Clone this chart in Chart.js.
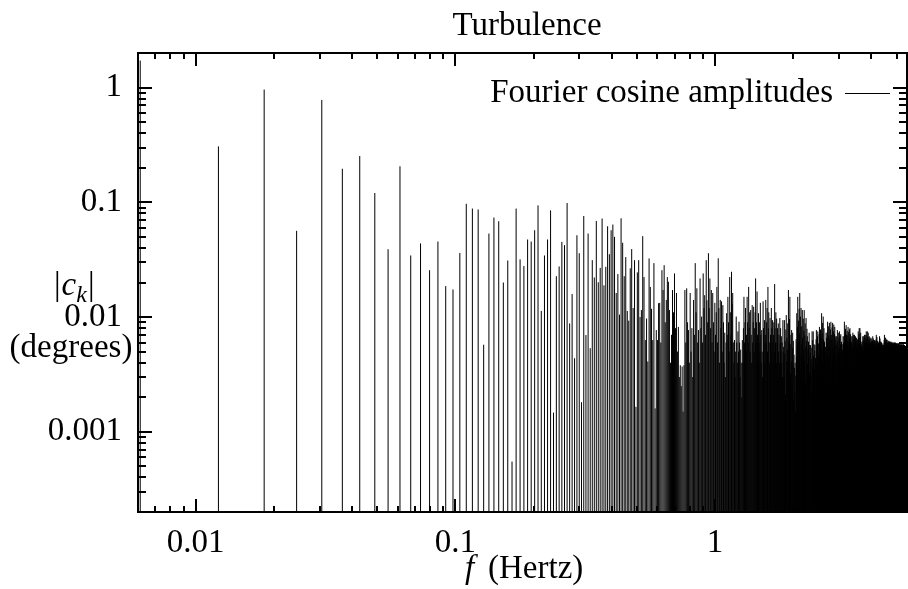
<!DOCTYPE html>
<html>
<head>
<meta charset="utf-8">
<title>Turbulence</title>
<script src="https://cdn.jsdelivr.net/npm/chart.js@4.4.1/dist/chart.umd.min.js"></script>
<style>
  html, body { margin: 0; padding: 0; background: #fff; overflow: hidden; }
  #wrap { width: 908px; height: 589px; }
  canvas { display: block; }
</style>
</head>
<body>
<div id="wrap"><canvas id="chart" width="908" height="589" style="width:908px;height:589px"></canvas></div>
<script>
// ---- data: Fourier cosine amplitudes |c_k| (degrees), bin k = 1..895 ----
const DF = 0.00612;          // frequency step (Hertz)
const X_MIN = 0.006, X_MAX = 5.48;
const Y_MIN = 0.0002, Y_MAX = 2;

const X_TICKS = [0.01, 0.1, 1];
const X_TICK_LABELS = ["0.01", "0.1", "1"];
const Y_TICKS = [0.001, 0.01, 0.1, 1];
const Y_TICK_LABELS = ["0.001", "0.01", "0.1", "1"];

// k = 1..41
const ampLow = [
  1.72, 0.307, 0.96, 0.0564, 0.78, 0.196, 0.253, 0.1205, 0.039, 0.206,
  0.0344, 0.0438, 0.0256, 0.0455, 0.0186, 0.0174, 0.0362, 0.097, 0.0882, 0.0865,
  0.00574, 0.0534, 0.0736, 0.0684, 0.020, 0.0311, 0.00055, 0.0882, 0.0318, 0.0278,
  0.0474, 0.0455, 0.0571, 0.094, 0.0113, 0.0344, 0.0474, 0.085, 0.00147, 0.0227,
  0.0276
];
// k = 42..99
const ampMid = [
  0.0452, 0.0423, 0.0986, 0.0088, 0.0159, 0.00437, 0.0516, 0.036, 0.00181,
  0.076, 0.00697, 0.0534, 0.00535, 0.0313, 0.0221, 0.0688, 0.0201, 0.0268, 0.0722,
  0.0189, 0.0274, 0.0618, 0.0353, 0.0571, 0.064, 0.05, 0.0162, 0.0237, 0.0105,
  0.0726, 0.0444, 0.0227, 0.0333, 0.0113, 0.0093, 0.0266, 0.0391, 0.012, 0.0313,
  0.00165, 0.0245, 0.0313, 0.010, 0.0115, 0.0507, 0.0223, 0.0063, 0.0097, 0.0041,
  0.0324, 0.0183, 0.0118, 0.0063, 0.0295, 0.0016, 0.0077, 0.0063, 0.0132
];
// k = 100..299
const ampHigh1 = [
  0.0133, 0.006, 0.0256, 0.0172, 0.0283, 0.009, 0.0141, 0.0223, 0.0203, 0.0115,
  0.004, 0.007, 0.0172, 0.011, 0.024, 0.008, 0.0162, 0.005, 0.0082, 0.003,
  0.0038, 0.0025, 0.0037, 0.0015, 0.0038, 0.0172, 0.006, 0.0178, 0.009, 0.0077,
  0.004, 0.0162, 0.005, 0.008, 0.003, 0.0141, 0.007, 0.0295, 0.011, 0.0178,
  0.006, 0.0077, 0.004, 0.0217, 0.008, 0.0101, 0.006, 0.024, 0.012, 0.0155,
  0.007, 0.0313, 0.014, 0.009, 0.036, 0.012, 0.0217, 0.008, 0.0172, 0.006,
  0.0162, 0.009, 0.005, 0.0133, 0.007, 0.011, 0.0183, 0.006, 0.0325, 0.012,
  0.004, 0.0141, 0.008, 0.0137, 0.005, 0.0127, 0.009, 0.004, 0.0073, 0.003,
  0.006, 0.0108, 0.007, 0.015, 0.009, 0.005, 0.0223, 0.011, 0.007, 0.0248,
  0.013, 0.0162, 0.006, 0.004, 0.0063, 0.003, 0.005, 0.0101, 0.006, 0.004,
  0.0075, 0.005, 0.0091, 0.006, 0.003, 0.0052, 0.004, 0.002, 0.0063, 0.004,
  0.008, 0.015, 0.006, 0.009, 0.012, 0.005, 0.007, 0.015, 0.009, 0.006,
  0.0183, 0.008, 0.011, 0.005, 0.0115, 0.007, 0.004, 0.0127, 0.006, 0.009,
  0.0123, 0.005, 0.008, 0.011, 0.0217, 0.006, 0.009, 0.0167, 0.007, 0.004,
  0.0108, 0.006, 0.009, 0.005, 0.0133, 0.007, 0.004, 0.0077, 0.005, 0.003,
  0.0137, 0.008, 0.006, 0.0094, 0.004, 0.007, 0.0141, 0.006, 0.009, 0.012,
  0.005, 0.0183, 0.008, 0.011, 0.006, 0.004, 0.0098, 0.007, 0.005, 0.012,
  0.008, 0.006, 0.0094, 0.004, 0.007, 0.009, 0.005, 0.0194, 0.008, 0.006,
  0.011, 0.004, 0.0097, 0.006, 0.008, 0.003, 0.0088, 0.005, 0.007, 0.004,
  0.0098, 0.006, 0.008, 0.005, 0.0068, 0.004, 0.006, 0.003, 0.0094, 0.005
];
// k = 300..599
const ampHigh2 = [
  0.0055, 0.0030, 0.0094, 0.0048, 0.0062, 0.0021, 0.0078, 0.0104, 0.0041, 0.0066,
  0.0052, 0.0088, 0.0035, 0.0172, 0.0061, 0.0044, 0.0096, 0.0150, 0.0058, 0.0032,
  0.0070, 0.0041, 0.0077, 0.0025, 0.0054, 0.0073, 0.0038, 0.0062, 0.0019, 0.0047,
  0.0036, 0.0022, 0.0040, 0.0015, 0.0031, 0.0064, 0.0045, 0.0108, 0.0057, 0.0082,
  0.0150, 0.0061, 0.0093, 0.0040, 0.0118, 0.0072, 0.0162, 0.0048, 0.0101, 0.0035,
  0.0120, 0.0058, 0.0083, 0.0030, 0.0115, 0.0066, 0.0044, 0.0097, 0.0052, 0.0076,
  0.0115, 0.0041, 0.0069, 0.0088, 0.0027, 0.0055, 0.0098, 0.0062, 0.0036, 0.0079,
  0.0068, 0.0039, 0.0052, 0.0024, 0.0061, 0.0045, 0.0073, 0.0033, 0.0057, 0.0018,
  0.0049, 0.0057, 0.0031, 0.0043, 0.0022, 0.0054, 0.0075, 0.0038, 0.0063, 0.0029,
  0.0075, 0.0046, 0.0027, 0.0058, 0.0035, 0.0051, 0.0057, 0.0019, 0.0044, 0.0032,
  0.0064, 0.0077, 0.0040, 0.0055, 0.0026, 0.0068, 0.0075, 0.0048, 0.0033, 0.0059,
  0.0045, 0.0071, 0.0082, 0.0036, 0.0060, 0.0024, 0.0078, 0.0050, 0.0066, 0.0039,
  0.0108, 0.0053, 0.0072, 0.0041, 0.0089, 0.0030, 0.0101, 0.0064, 0.0047, 0.0080,
  0.0058, 0.0061, 0.0034, 0.0049, 0.0022, 0.0055, 0.0042, 0.0073, 0.0031, 0.0066,
  0.0051, 0.0073, 0.0038, 0.0091, 0.0060, 0.0044, 0.0083, 0.0027, 0.0069, 0.0056,
  0.0089, 0.0047, 0.0065, 0.0035, 0.0078, 0.0052, 0.0091, 0.0040, 0.0070, 0.0029,
  0.0063, 0.0081, 0.0042, 0.0089, 0.0054, 0.0033, 0.0075, 0.0048, 0.0086, 0.0058,
  0.0039, 0.0071, 0.0082, 0.0050, 0.0064, 0.0027, 0.0068, 0.0045, 0.0057, 0.0036,
  0.0068, 0.0041, 0.0059, 0.0077, 0.0033, 0.0062, 0.0049, 0.0073, 0.0038, 0.0054,
  0.0066, 0.0044, 0.0075, 0.0052, 0.0030, 0.0069, 0.0058, 0.0037, 0.0071, 0.0047,
  0.0056, 0.0061, 0.0035, 0.0049, 0.0058, 0.0028, 0.0052, 0.0044, 0.0068, 0.0039,
  0.0060, 0.0046, 0.0068, 0.0053, 0.0091, 0.0037, 0.0072, 0.0057, 0.0043, 0.0079,
  0.0064, 0.0050, 0.0085, 0.0041, 0.0070, 0.0058, 0.0033, 0.0076, 0.0062, 0.0047,
  0.0069, 0.0082, 0.0052, 0.0038, 0.0074, 0.0060, 0.0045, 0.0078, 0.0055, 0.0066,
  0.0080, 0.0048, 0.0063, 0.0071, 0.0036, 0.0057, 0.0068, 0.0044, 0.0061, 0.0052,
  0.0059, 0.0068, 0.0042, 0.0055, 0.0073, 0.0048, 0.0064, 0.0037, 0.0070, 0.0053,
  0.0061, 0.0045, 0.0070, 0.0056, 0.0039, 0.0066, 0.0051, 0.0068, 0.0043, 0.0058,
  0.0063, 0.0049, 0.0066, 0.0054, 0.0035, 0.0060, 0.0046, 0.0064, 0.0052, 0.0041,
  0.0057, 0.0075, 0.0048, 0.0066, 0.0053, 0.0071, 0.0080, 0.0044, 0.0062, 0.0055,
  0.0080, 0.0059, 0.0067, 0.0042, 0.0073, 0.0050, 0.0061, 0.0038, 0.0056, 0.0047
];
// k = 600..895
const ampHigh3 = [
  0.0058, 0.0044, 0.0061, 0.0052, 0.0039, 0.0068, 0.0055, 0.0047, 0.0063, 0.0050,
  0.0068, 0.0053, 0.0045, 0.0062, 0.0070, 0.0049, 0.0057, 0.0041, 0.0066, 0.0054,
  0.0060, 0.0070, 0.0046, 0.0058, 0.0075, 0.0051, 0.0064, 0.0043, 0.0069, 0.0056,
  0.0075, 0.0059, 0.0048, 0.0067, 0.0054, 0.0073, 0.0061, 0.0045, 0.0057, 0.0065,
  0.0052, 0.0068, 0.0058, 0.0046, 0.0063, 0.0055, 0.0066, 0.0049, 0.0060, 0.0043,
  0.0057, 0.0066, 0.0050, 0.0061, 0.0044, 0.0064, 0.0053, 0.0058, 0.0047, 0.0062,
  0.0055, 0.0068, 0.0060, 0.0048, 0.0065, 0.0052, 0.0058, 0.0063, 0.0045, 0.0057,
  0.0061, 0.0050, 0.0063, 0.0054, 0.0046, 0.0059, 0.0062, 0.0049, 0.0056, 0.0052,
  0.0058, 0.0064, 0.0070, 0.0051, 0.0060, 0.0055, 0.0067, 0.0048, 0.0062, 0.0057,
  0.0053, 0.0061, 0.0049, 0.0058, 0.0055, 0.0060, 0.0046, 0.0057, 0.0052, 0.0059,
  0.0062, 0.0054, 0.0068, 0.0050, 0.0059, 0.0065, 0.0047, 0.0061, 0.0056, 0.0052,
  0.0057, 0.0061, 0.0049, 0.0055, 0.0060, 0.0045, 0.0058, 0.0053, 0.0059, 0.0050,
  0.0054, 0.0057, 0.0048, 0.0053, 0.0056, 0.0044, 0.0055, 0.0051, 0.0057, 0.0049,
  0.0059, 0.0063, 0.0052, 0.0070, 0.0055, 0.0061, 0.0048, 0.0066, 0.0057, 0.0053,
  0.0060, 0.0066, 0.0051, 0.0058, 0.0063, 0.0047, 0.0061, 0.0055, 0.0064, 0.0052,
  0.0058, 0.0063, 0.0050, 0.0056, 0.0060, 0.0046, 0.0059, 0.0054, 0.0062, 0.0051,
  0.0057, 0.0060, 0.0049, 0.0062, 0.0053, 0.0058, 0.0047, 0.0061, 0.0055, 0.0052,
  0.0059, 0.0054, 0.0061, 0.0050, 0.0057, 0.0060, 0.0048, 0.0056, 0.0061, 0.0053,
  0.0055, 0.0060, 0.0051, 0.0058, 0.0049, 0.0059, 0.0054, 0.0060, 0.0047, 0.0056,
  0.0058, 0.0053, 0.0060, 0.0050, 0.0057, 0.0059, 0.0048, 0.0055, 0.0060, 0.0052,
  0.0057, 0.0060, 0.0049, 0.0055, 0.0059, 0.0051, 0.0058, 0.0046, 0.0056, 0.0060,
  0.0054, 0.0058, 0.0050, 0.0059, 0.0047, 0.0056, 0.0059, 0.0052, 0.0057, 0.0049,
  0.0058, 0.0053, 0.0059, 0.0048, 0.0056, 0.0059, 0.0051, 0.0055, 0.0058, 0.0046,
  0.0057, 0.0059, 0.0050, 0.0055, 0.0058, 0.0047, 0.0059, 0.0053, 0.0056, 0.0051,
  0.0056, 0.0058, 0.0049, 0.0054, 0.0057, 0.0052, 0.0058, 0.0045, 0.0055, 0.0057,
  0.0053, 0.0057, 0.0050, 0.0058, 0.0048, 0.0055, 0.0057, 0.0051, 0.0056, 0.0049,
  0.0057, 0.0052, 0.0058, 0.0047, 0.0055, 0.0057, 0.0050, 0.0054, 0.0058, 0.0051,
  0.0055, 0.0057, 0.0049, 0.0053, 0.0056, 0.0046, 0.0057, 0.0052, 0.0054, 0.0050,
  0.0056, 0.0051, 0.0055, 0.0048, 0.0056, 0.0053, 0.0045, 0.0055, 0.0052, 0.0056,
  0.0054, 0.0049, 0.0056, 0.0052, 0.0055, 0.0050
];

const amps = [].concat(ampLow, ampMid, ampHigh1, ampHigh2, ampHigh3);
const freqs = amps.map((_, i) => (i + 1) * DF);

// ---- styles ----
const FAMILY = '"Liberation Serif", "Times New Roman", serif';
const FONT = "33px " + FAMILY;

// impulses: one line dataset, each bin is a vertical segment from the floor
function buildImpulses() {
  const pts = [];
  for (let i = 0; i < freqs.length; i++) {
    pts.push({ x: freqs[i], y: Y_MIN / 2 });
    pts.push({ x: freqs[i], y: amps[i] });
    pts.push({ x: freqs[i], y: null });
  }
  return pts;
}

function tickLabel(list, labels) {
  return function (v) {
    for (let i = 0; i < list.length; i++) {
      if (Math.abs(v - list[i]) / list[i] < 1e-6) return labels[i];
    }
    return "";
  };
}

// 1..9 for values like 3e-4, 0 otherwise
function mantissa(v) {
  const e = Math.floor(Math.log10(v) + 1e-9);
  const m = v / Math.pow(10, e);
  const r = Math.round(m);
  return Math.abs(m - r) < 1e-6 && r >= 1 && r <= 9 ? r : 0;
}

// frame + inward tick marks on all four sides (gnuplot look)
const frameTicks = {
  id: "frameTicks",
  afterDatasetsDraw(chart) {
    const { ctx, chartArea: a, scales } = chart;
    const x = scales.x, y = scales.y;
    ctx.save();
    ctx.strokeStyle = "#000";
    ctx.lineWidth = 2;
    ctx.beginPath();
    x.ticks.forEach(t => {
      const m = mantissa(t.value);
      if (!m) return;
      const px = Math.round(x.getPixelForValue(t.value));
      if (px <= a.left + 1 || px >= a.right - 1) return;
      const len = m === 1 ? 13 : 6;
      ctx.moveTo(px, a.bottom); ctx.lineTo(px, a.bottom - len);
      ctx.moveTo(px, a.top); ctx.lineTo(px, a.top + len);
    });
    y.ticks.forEach(t => {
      const m = mantissa(t.value);
      if (!m) return;
      const py = Math.round(y.getPixelForValue(t.value));
      if (py <= a.top + 1 || py >= a.bottom - 1) return;
      const len = m === 1 ? 14 : 8;
      ctx.moveTo(a.left, py); ctx.lineTo(a.left + len, py);
      ctx.moveTo(a.right, py); ctx.lineTo(a.right - len, py);
    });
    ctx.stroke();
    ctx.strokeRect(a.left, a.top, a.right - a.left, a.bottom - a.top);
    ctx.restore();
  }
};

// title, axis titles and key
const texts = {
  id: "texts",
  afterDraw(chart) {
    const { ctx } = chart;
    ctx.save();
    ctx.fillStyle = "#000";
    ctx.textBaseline = "alphabetic";

    ctx.font = FONT;
    ctx.textAlign = "center";
    ctx.fillText("Turbulence", 527, 35);

    // y title: |c_k| over (degrees)
    ctx.textAlign = "left";
    let cx = 54;
    ctx.font = FONT;
    ctx.fillText("|", cx, 295); cx += ctx.measureText("|").width + 1;
    ctx.font = "italic 33px " + FAMILY;
    ctx.fillText("c", cx, 295); cx += ctx.measureText("c").width;
    ctx.font = "italic 24px " + FAMILY;
    ctx.fillText("k", cx, 302); cx += ctx.measureText("k").width + 1;
    ctx.font = FONT;
    ctx.fillText("|", cx, 295);

    ctx.textAlign = "center";
    ctx.fillText("(degrees)", 71, 357);

    // x title: f (Hertz)
    ctx.textAlign = "left";
    ctx.font = "italic 33px " + FAMILY;
    ctx.fillText("f", 465, 578);
    ctx.font = FONT;
    ctx.fillText("(Hertz)", 488, 578);

    // key
    ctx.textAlign = "right";
    ctx.fillText("Fourier cosine amplitudes", 833, 102);
    ctx.lineWidth = 1;
    ctx.strokeStyle = "#000";
    ctx.beginPath();
    ctx.moveTo(845, 93.5); ctx.lineTo(890, 93.5);
    ctx.stroke();
    ctx.restore();
  }
};

const chart = new Chart(document.getElementById("chart"), {
  type: "line",
  data: {
    datasets: [{
      label: "Fourier cosine amplitudes",
      data: buildImpulses(),
      borderColor: "#000",
      borderWidth: 1,
      pointRadius: 0,
      spanGaps: false,
      tension: 0,
      fill: false
    }]
  },
  options: {
    responsive: false,
    animation: false,
    devicePixelRatio: 1,
    layout: { padding: { top: 53, right: 1, left: 0, bottom: 0 } },
    plugins: { legend: { display: false }, tooltip: { enabled: false }, title: { display: false } },
    scales: {
      x: {
        type: "logarithmic",
        min: X_MIN, max: X_MAX,
        grid: { display: false, drawTicks: false },
        border: { display: false },
        ticks: {
          autoSkip: false, maxRotation: 0, padding: 12,
          color: "#000", font: { family: FAMILY, size: 33 },
          callback: tickLabel(X_TICKS, X_TICK_LABELS)
        },
        afterFit(s) { s.height = 77; s.paddingLeft = 0; s.paddingRight = 0; }
      },
      y: {
        type: "logarithmic",
        min: Y_MIN, max: Y_MAX,
        grid: { display: false, drawTicks: false },
        border: { display: false },
        ticks: {
          autoSkip: false, padding: 16,
          color: "#000", font: { family: FAMILY, size: 33 },
          callback: tickLabel(Y_TICKS, Y_TICK_LABELS)
        },
        afterFit(s) { s.width = 138; s.paddingTop = 0; s.paddingBottom = 0; }
      }
    }
  },
  plugins: [frameTicks, texts]
});
</script>
</body>
</html>
